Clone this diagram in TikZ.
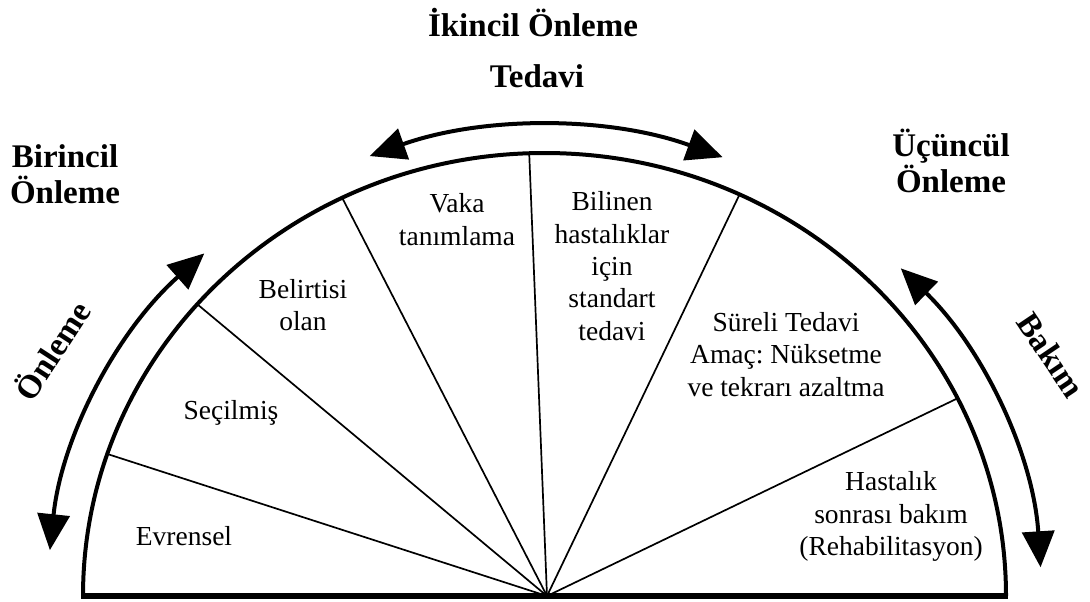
\documentclass[tikz,border=0pt]{standalone}
\usepackage{fontspec}
\setmainfont{Liberation Serif}
\usetikzlibrary{arrows.meta}
\frenchspacing
\begin{document}
\begin{tikzpicture}[x=0.5pt,y=0.5pt,
  lbl/.style={align=center,font=\fontsize{13.75}{16.2}\selectfont,inner sep=0pt},
  head/.style={align=center,font=\bfseries\fontsize{16.5}{18}\selectfont,inner sep=0pt},
  divider/.style={line width=0.85pt},
  bigarrow/.style={line width=2pt,arrows={Triangle[length=18pt,width=16pt]-Triangle[length=18pt,width=16pt]}}]
\useasboundingbox (0,0) rectangle (1090,601);
% outer half ellipse
\coordinate (bl) at (83,5);
\coordinate (br) at (1006,5);
\coordinate (apex) at (547,5);
\draw[line width=2pt] (bl) arc[start angle=180,end angle=0,x radius=230.75pt,y radius=221.5pt];
\draw[line width=2.6pt] (81,5) -- (1008,5);
% divider end points on the arc
\coordinate (d1) at ({544.5+461.5*cos(161.3)},{5+443*sin(161.3)});
\coordinate (d2) at ({544.5+461.5*cos(138.8)},{5+443*sin(138.8)});
\coordinate (d3) at ({544.5+461.5*cos(116)},{5+443*sin(116)});
\coordinate (d4) at ({544.5+461.5*cos(91.9)},{5+443*sin(91.9)});
\coordinate (d5) at ({544.5+461.5*cos(65)},{5+443*sin(65)});
\coordinate (d6) at ({544.5+461.5*cos(26.5)},{5+443*sin(26.5)});
\foreach \d in {d1,d2,d3,d4,d5,d6} \draw[divider] (apex) -- (\d);
% arrows
\coordinate (la) at ({544.5+497*cos(174.4)},{5+470*sin(174.4)});
\coordinate (ta) at ({544.5+497*cos(110.6)},{5+470*sin(110.6)});
\coordinate (ra) at ({544.5+497*cos(44.2)},{5+470*sin(44.2)});
\draw[bigarrow] (la) arc[start angle=174.4,end angle=133.2,x radius=248.5pt,y radius=235pt];
\draw[bigarrow] (ta) arc[start angle=110.6,end angle=69,x radius=248.5pt,y radius=235pt];
\draw[bigarrow] (ra) arc[start angle=44.2,end angle=3.5,x radius=248.5pt,y radius=235pt];
% headings
\node[head,anchor=base] (ikincil) at (533,{601-37}) {İkincil Önleme};
\node[head,anchor=base] (tedavi) at (537,{601-88}) {Tedavi};
\node[head] (birincil) at (65,{601-174}) {Birincil\\Önleme};
\node[head] (ucuncul) at (951,{601-161}) {Üçüncül\\Önleme};
\node[head,rotate=57] (onleme) at (51,{601-350}) {Önleme};
\node[head,rotate=-56] (bakim) at (1051,{601-355}) {Bakım};
% segment labels
\node[lbl] (evrensel) at (184,{601-535.6}) {Evrensel};
\node[lbl] (secilmis) at (231,{601-413}) {Seçilmiş};
\node[lbl] (belirtisi) at (303,{601-305}) {Belirtisi\\olan};
\node[lbl] (vaka) at (457,{601-219.4}) {Vaka\\tanımlama};
\node[lbl] (bilinen) at (612,{601-266}) {Bilinen\\hastalıklar\\için\\standart\\tedavi};
\node[lbl] (sureli) at (786,{601-354.4}) {Süreli Tedavi\\Amaç: Nüksetme\\ve tekrarı azaltma};
\node[lbl] (hastalik) at (891,{601-516.7}) {Hastalık\\sonrası bakım\\(Rehabilitasyon)};
\end{tikzpicture}
\end{document}
